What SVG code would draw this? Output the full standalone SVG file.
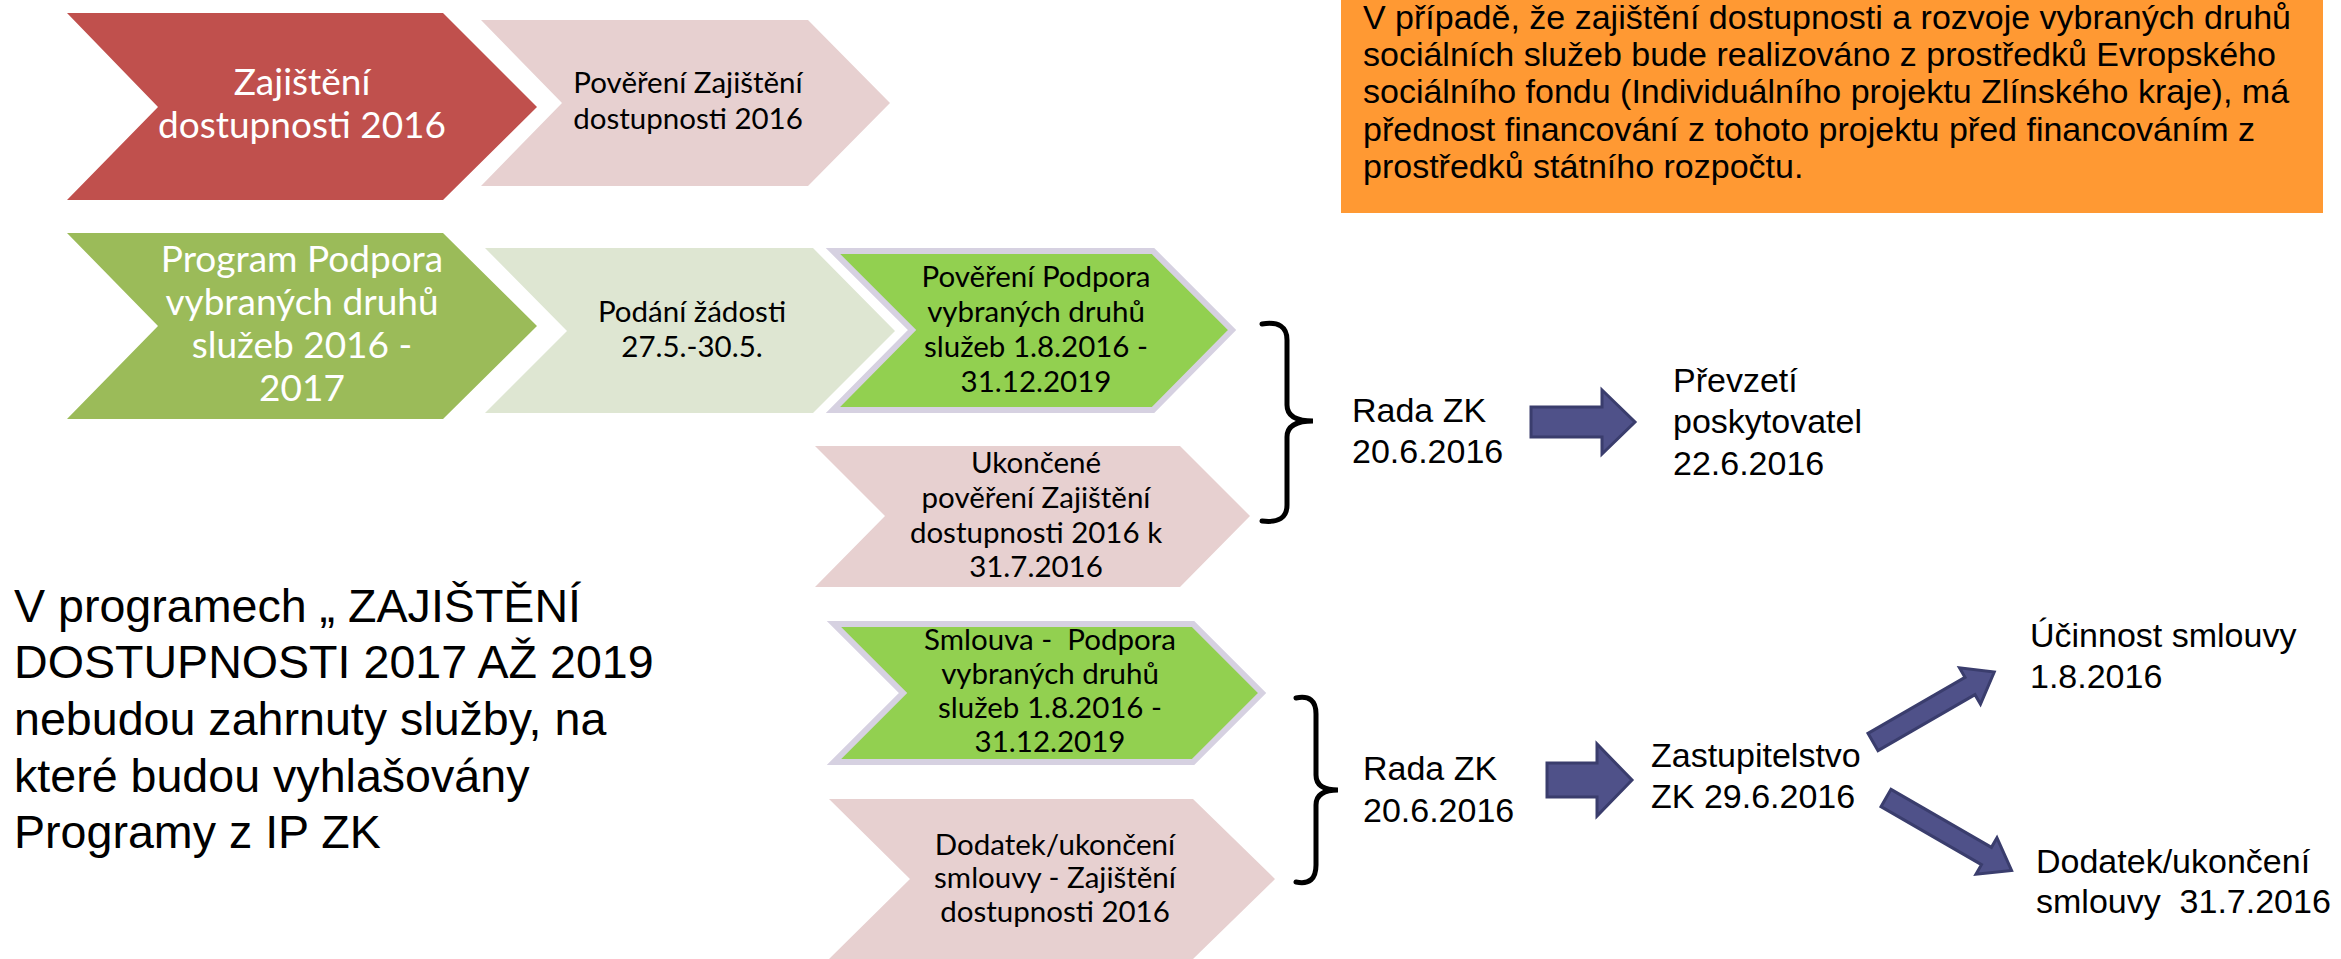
<svg xmlns="http://www.w3.org/2000/svg" width="2341" height="959" viewBox="0 0 2341 959">
<style>
.cal{font-family:Lato,"Open Sans","DejaVu Sans",sans-serif;font-size:29.5px;text-anchor:middle;fill:#000}
.big{font-size:37px;fill:#fff}
.ar{font-family:"Liberation Sans",Arial,sans-serif;font-size:34px;fill:#000}
.note{font-family:"Liberation Sans",Arial,sans-serif;font-size:34px;fill:#000}
.left{font-family:"Liberation Sans",Arial,sans-serif;font-size:46.6px;fill:#000}
.pink{fill:#E7D0D0}
.bord{fill:#92D050;stroke:#D6D1E1;stroke-width:6}
.blk{fill:#4F5189;stroke:#3A3D6D;stroke-width:3;stroke-linejoin:miter}
.brace{fill:none;stroke:#000;stroke-width:5;stroke-linecap:round}
</style>
<rect width="2341" height="959" fill="#fff"/>

<g id="n-zajisteni">
<polygon points="67,13 443,13 537,107 443,200 67,200 158,107" fill="#C0504D"/>
<text class="cal big" x="302" y="95">Zajištění</text>
<text class="cal big" x="302" y="138">dostupnosti 2016</text>
</g>

<g id="n-povereni-zaj">
<polygon class="pink" points="481,20 808,20 890,103 808,186 481,186 562,103"/>
<text class="cal" x="688" y="93">Pověření Zajištění</text>
<text class="cal" x="688" y="129">dostupnosti 2016</text>
</g>

<g id="n-program">
<polygon points="67,233 443,233 537,326 443,419 67,419 158,326" fill="#9BBB59"/>
<text class="cal big" x="302" y="272">Program Podpora</text>
<text class="cal big" x="302" y="315">vybraných druhů</text>
<text class="cal big" x="302" y="358">služeb 2016 -</text>
<text class="cal big" x="302" y="401">2017</text>
</g>

<g id="n-podani">
<polygon points="485,248 813,248 895,331 813,413 485,413 567,331" fill="#DEE6D2"/>
<text class="cal" x="692" y="322">Podání žádosti</text>
<text class="cal" x="692" y="357">27.5.-30.5.</text>
</g>

<g id="n-povereni-podpora">
<polygon class="bord" points="833,251 1153,251 1232,330 1153,410 833,410 912,330"/>
<text class="cal" x="1036" y="287">Pověření Podpora</text>
<text class="cal" x="1036" y="322">vybraných druhů</text>
<text class="cal" x="1036" y="357">služeb 1.8.2016 -</text>
<text class="cal" x="1036" y="392">31.12.2019</text>
</g>

<g id="n-ukoncene">
<polygon class="pink" points="815,446 1180,446 1250,516 1180,587 815,587 885,516"/>
<text class="cal" x="1036" y="473">Ukončené</text>
<text class="cal" x="1036" y="508">pověření Zajištění</text>
<text class="cal" x="1036" y="543">dostupnosti 2016 k</text>
<text class="cal" x="1036" y="577">31.7.2016</text>
</g>

<g id="n-smlouva">
<polygon class="bord" points="834,624 1193,624 1262,693 1193,762 834,762 903,693"/>
<text class="cal" x="1050" y="650">Smlouva -&#160; Podpora</text>
<text class="cal" x="1050" y="684">vybraných druhů</text>
<text class="cal" x="1050" y="718">služeb 1.8.2016 -</text>
<text class="cal" x="1050" y="752">31.12.2019</text>
</g>

<g id="n-dodatek">
<polygon class="pink" points="829,799 1193,799 1275,879 1193,959 829,959 910,879"/>
<text class="cal" x="1055" y="855">Dodatek/ukončení</text>
<text class="cal" x="1055" y="888">smlouvy - Zajištění</text>
<text class="cal" x="1055" y="922">dostupnosti 2016</text>
</g>

<g id="n-note">
<rect x="1341" y="0" width="982" height="213" fill="#FF9933"/>
<text class="note" x="1363" y="29">V případě, že zajištění dostupnosti a rozvoje vybraných druhů</text>
<text class="note" x="1363" y="66">sociálních služeb bude realizováno z prostředků Evropského</text>
<text class="note" x="1363" y="103">sociálního fondu (Individuálního projektu Zlínského kraje), má</text>
<text class="note" x="1363" y="141">přednost financování z tohoto projektu před financováním z</text>
<text class="note" x="1363" y="178">prostředků státního rozpočtu.</text>
</g>

<g id="n-left-text">
<text class="left" x="14" y="622">V programech „ ZAJIŠTĚNÍ</text>
<text class="left" x="14" y="678">DOSTUPNOSTI 2017 AŽ 2019</text>
<text class="left" x="14" y="735">nebudou zahrnuty služby, na</text>
<text class="left" x="14" y="792">které budou vyhlašovány</text>
<text class="left" x="14" y="848">Programy z IP ZK</text>
</g>

<g id="n-rada1">
<text class="ar" x="1352" y="422">Rada ZK</text>
<text class="ar" x="1352" y="463">20.6.2016</text>
</g>

<g id="n-prevzeti">
<text class="ar" x="1673" y="392">Převzetí</text>
<text class="ar" x="1673" y="433">poskytovatel</text>
<text class="ar" x="1673" y="475">22.6.2016</text>
</g>

<g id="n-rada2">
<text class="ar" x="1363" y="780">Rada ZK</text>
<text class="ar" x="1363" y="822">20.6.2016</text>
</g>

<g id="n-zastupitelstvo">
<text class="ar" x="1651" y="767">Zastupitelstvo</text>
<text class="ar" x="1651" y="808">ZK 29.6.2016</text>
</g>

<g id="n-ucinnost">
<text class="ar" x="2030" y="647">Účinnost smlouvy</text>
<text class="ar" x="2030" y="688">1.8.2016</text>
</g>

<g id="n-dodatek-smlouvy">
<text class="ar" x="2036" y="873">Dodatek/ukončení</text>
<text class="ar" x="2036" y="913">smlouvy&#160; 31.7.2016</text>
</g>

<g id="connectors">
<path class="brace" d="M1262,324 Q1287,320 1287,340 L1287,405 Q1287,421 1313,421 Q1287,421 1287,437 L1287,505 Q1287,524 1262,521"/>
<path class="brace" d="M1296,698 Q1316,694 1316,714 L1316,775 Q1316,790 1338,790 Q1316,790 1316,805 L1316,865 Q1316,886 1296,882"/>
<path class="blk" transform="translate(1531,422)" d="M0,-15 L71,-15 L71,-32 L104,0 L71,32 L71,15 L0,15 Z"/>
<path class="blk" transform="translate(1547,780)" d="M0,-17 L50,-17 L50,-36 L85,0 L50,36 L50,17 L0,17 Z"/>
<path class="blk" transform="translate(1873,742) rotate(-30)" d="M0,-10 L112,-10 L112,-21 L140,0 L112,21 L112,10 L0,10 Z"/>
<path class="blk" transform="translate(1886,798) rotate(30)" d="M0,-10 L116,-10 L116,-21 L145,0 L116,21 L116,10 L0,10 Z"/>
</g>
</svg>
